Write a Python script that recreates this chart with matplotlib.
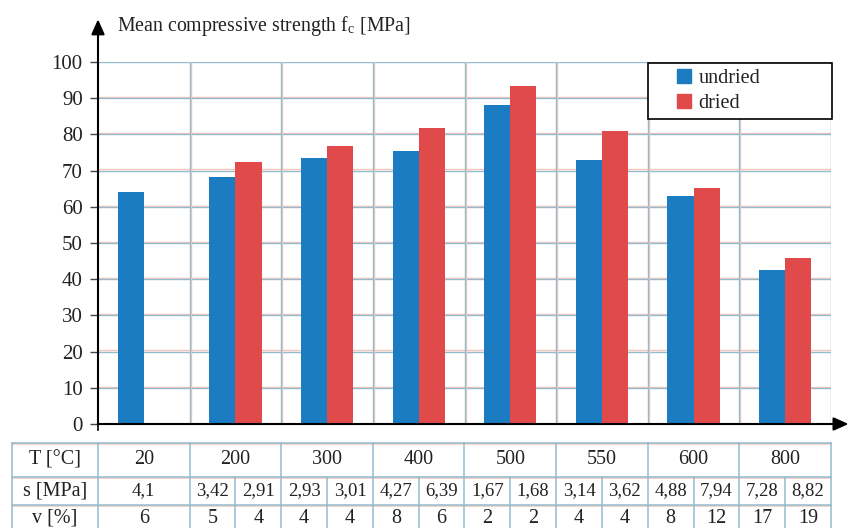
# Mean compressive strength of undried / dried specimens vs temperature, with stats table

import matplotlib
matplotlib.use("Agg")
import matplotlib.pyplot as plt
from matplotlib.lines import Line2D

# Data
temperatures = ["20", "200", "300", "400", "500", "550", "600", "800"]
undried = [64.1, 68.2, 73.6, 75.5, 88.2, 73.0, 63.0, 42.5]
dried = [None, 72.5, 76.8, 81.8, 93.4, 80.9, 65.2, 45.9]
s_undried = ["4,1", "3,42", "2,93", "4,27", "1,67", "3,14", "4,88", "7,28"]
s_dried = [None, "2,91", "3,01", "6,39", "1,68", "3,62", "7,94", "8,82"]
v_undried = ["6", "5", "4", "8", "2", "4", "8", "17"]
v_dried = [None, "4", "4", "6", "2", "4", "12", "19"]
yticks = [0, 10, 20, 30, 40, 50, 60, 70, 80, 90, 100]

blue = "#1b7cc1"
red = "#e04a4a"
grid_blue = "#93bccf"
grid_red = "#f6c6b8"
text_col = "#222222"

plt.rcParams["font.family"] = ["Liberation Serif", "DejaVu Serif"]
plt.rcParams["mathtext.fontset"] = "stix"

W, H = 849, 528
fig = plt.figure(figsize=(W / 100, H / 100), dpi=100)

# main axes: pixel box x 98..831, y 62..424
ax = fig.add_axes([98 / W, 1 - 424 / H, (831 - 98) / W, (424 - 62) / H])
ax.set_xlim(0, len(temperatures))
ax.set_ylim(0, 100)

# double-line grid (blue with faint salmon shadow)
for y in yticks[1:]:
    ax.axhline(y + 0.35, color=grid_red, lw=1.0, zorder=0)
    ax.axhline(y, color=grid_blue, lw=1.0, zorder=0)
for i in range(1, len(temperatures) + 1):
    ax.axvline(i + 0.012, color=grid_red, lw=1.0, zorder=0)
    ax.axvline(i, color=grid_blue, lw=1.0, zorder=0)

# bars: undried left of the group centre, dried right of it
bw = 0.285
for i in range(len(temperatures)):
    ax.bar(i + 0.5 - bw, undried[i], width=bw, align="edge", color=blue, zorder=2)
    if dried[i] is not None:
        ax.bar(i + 0.5, dried[i], width=bw, align="edge", color=red, zorder=2)

ax.set_yticks(yticks)
ax.set_yticklabels([str(t) for t in yticks], fontsize=15, color=text_col)
ax.tick_params(axis="y", length=6, width=1, color="#444444", pad=5)
ax.set_xticks([])
for sp in ax.spines.values():
    sp.set_visible(False)

# axes with arrow heads
arrow = dict(arrowstyle="-|>,head_length=0.9,head_width=0.4", color="black", lw=1.5,
             shrinkA=0, shrinkB=0)
ax.annotate("", xy=(0, 1.118), xytext=(0, 0), xycoords="axes fraction",
            arrowprops=arrow, annotation_clip=False)
ax.annotate("", xy=(1.024, 0), xytext=(0, 0), xycoords="axes fraction",
            arrowprops=arrow, annotation_clip=False)
ax.plot([0, 0], [0, -1.7], color="black", lw=1.2, clip_on=False)

fig.text(117 / W, 1 - 26 / H, r"Mean compressive strength f$_\mathregular{c}$ [MPa]",
         fontsize=14.3, color=text_col, va="center", ha="left")

# legend, stretched over the right-hand part of the top row
handles = [Line2D([], [], marker="s", ls="none", color=blue, markersize=9.5),
           Line2D([], [], marker="s", ls="none", color=red, markersize=9.5)]
leg = ax.legend(handles, ["undried", "dried"], loc="upper left", mode="expand",
                bbox_to_anchor=(0.7503, 0, 0.251, 0.997), borderaxespad=0, fontsize=14.5,
                handlelength=2.95, handletextpad=-0.75, labelspacing=0.3,
                borderpad=0.3, fancybox=False, framealpha=1, edgecolor="black")
leg.get_frame().set_linewidth(1.2)
leg.set_zorder(5)
for t in leg.get_texts():
    t.set_color(text_col)

# table below the chart
tax = fig.add_axes([12 / W, 1 - 532 / H, (831 - 12) / W, (532 - 443) / H])
lab_w = 86 / ((831 - 98) / 8)
tax.set_xlim(-lab_w, len(temperatures))
tax.set_ylim(532, 443)
tax.axis("off")

rows = [443, 477, 505, 532]
line_kw = dict(color=grid_blue, lw=1.1)
shadow_kw = dict(color=grid_red, lw=1.1)
for r in rows[:3]:
    tax.plot([-lab_w, len(temperatures)], [r + 0.6, r + 0.6], **shadow_kw, clip_on=False)
    tax.plot([-lab_w, len(temperatures)], [r, r], **line_kw, clip_on=False)
for x in [-lab_w] + list(range(len(temperatures) + 1)):
    tax.plot([x, x], [rows[0], rows[-1]], **line_kw, clip_on=False)
for i in range(1, len(temperatures)):
    tax.plot([i + 0.5, i + 0.5], [rows[1], rows[-1]], **line_kw, clip_on=False)

ymid = [(rows[k] + rows[k + 1]) / 2 for k in range(3)]
for lab, y in zip(["T [°C]", "s [MPa]", "v [%]"], ymid):
    tax.text(-lab_w / 2, y, lab, fontsize=14.5, ha="center", va="center", color=text_col)

for i, t in enumerate(temperatures):
    tax.text(i + 0.5, ymid[0], t, fontsize=14.5, ha="center", va="center", color=text_col)
    if s_dried[i] is None:
        tax.text(i + 0.5, ymid[1], s_undried[i], fontsize=13.5, ha="center", va="center", color=text_col)
        tax.text(i + 0.5, ymid[2], v_undried[i], fontsize=14.5, ha="center", va="center", color=text_col)
    else:
        tax.text(i + 0.25, ymid[1], s_undried[i], fontsize=13.5, ha="center", va="center", color=text_col)
        tax.text(i + 0.75, ymid[1], s_dried[i], fontsize=13.5, ha="center", va="center", color=text_col)
        tax.text(i + 0.25, ymid[2], v_undried[i], fontsize=14.5, ha="center", va="center", color=text_col)
        tax.text(i + 0.75, ymid[2], v_dried[i], fontsize=14.5, ha="center", va="center", color=text_col)

fig.savefig("out.png", dpi=100)
